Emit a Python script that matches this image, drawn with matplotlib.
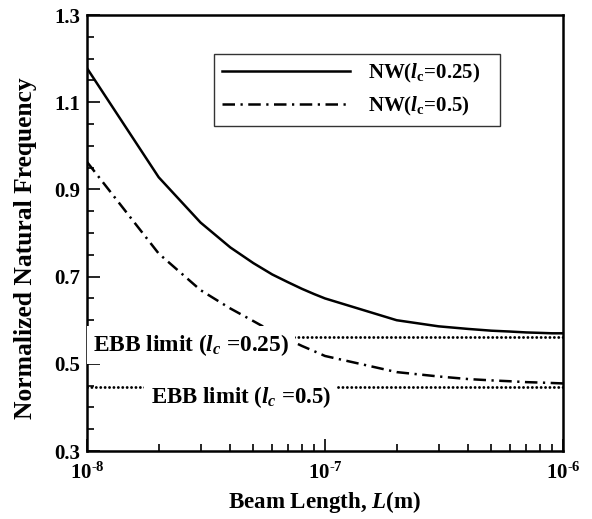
import numpy as np
import matplotlib
matplotlib.use("Agg")
import matplotlib.pyplot as plt
from matplotlib.ticker import FixedLocator, LogLocator, NullFormatter

plt.rcParams['font.family'] = 'Liberation Serif'
plt.rcParams['font.weight'] = 'bold'
plt.rcParams['mathtext.fontset'] = 'custom'
plt.rcParams['mathtext.rm'] = 'Liberation Serif:bold'
plt.rcParams['mathtext.bf'] = 'Liberation Serif:bold'
plt.rcParams['mathtext.it'] = 'Liberation Serif:italic:bold'

# beam length (m)
L = np.array([1e-8, 2e-8, 3e-8, 4e-8, 5e-8, 6e-8, 7e-8, 8e-8, 9e-8,
              1e-7, 2e-7, 3e-7, 4e-7, 5e-7, 6e-7, 7e-7, 8e-7, 9e-7, 1e-6])
# normalized natural frequency
nw_025 = np.array([1.178, 0.928, 0.824, 0.767, 0.731, 0.705, 0.687, 0.672, 0.660,
                   0.650, 0.600, 0.586, 0.580, 0.576, 0.574, 0.572, 0.571, 0.570, 0.570])
nw_05 = np.array([0.963, 0.753, 0.669, 0.627, 0.598, 0.574, 0.556, 0.541, 0.529,
                  0.518, 0.481, 0.471, 0.465, 0.462, 0.460, 0.458, 0.457, 0.456, 0.455])
ebb_025 = 0.561
ebb_05 = 0.446
xtick_vals = [1e-8, 1e-7, 1e-6]
xtick_labels = ['10$^{\u2010 8}$', '10$^{\u2010 7}$', '10$^{\u2010 6}$']
ytick_labels = ['0.3', '0.5', '0.7', '0.9', '1.1', '1.3']

fig = plt.figure(figsize=(5.92, 5.19), dpi=100)
ax = fig.add_axes([0.147, 0.131, 0.804, 0.840])

ax.plot(L, nw_025, color='black', lw=1.8, label=r'NW($l_{\mathrm{c}}$=0.25)   ')
ax.plot(L, nw_05, color='black', lw=1.8, linestyle=(0, (5, 2.2, 0.9, 2.2)),
        label=r'NW($l_{\mathrm{c}}$=0.5)')

dots = (0, (0.01, 1.5))
ax.axhline(ebb_025, color='black', lw=2.1, linestyle=dots, dash_capstyle='round', zorder=1)
ax.axhline(ebb_05, color='black', lw=2.1, linestyle=dots, dash_capstyle='round', zorder=1)

box = dict(facecolor='white', edgecolor='none', pad=4.5)
ax.text(1.06e-8, ebb_025 - 0.032, r'EBB limit ($l_c$ =0.25)', fontsize=16.8,
        va='baseline', ha='left', bbox=box, zorder=3)
ax.text(1.85e-8, ebb_05 - 0.036, r'EBB limit ($l_c$ =0.5)', fontsize=16.5,
        va='baseline', ha='left', bbox=box, zorder=3)

ax.set_xscale('log')
ax.set_xlim(1e-8, 1e-6)
ax.set_ylim(0.3, 1.3)

ax.xaxis.set_major_locator(FixedLocator(xtick_vals))
ax.set_xticklabels(xtick_labels)
ax.xaxis.set_minor_locator(LogLocator(base=10, subs=np.arange(2, 10)))
ax.xaxis.set_minor_formatter(NullFormatter())

ax.set_yticks(np.arange(0.3, 1.31, 0.2))
ax.set_yticklabels(ytick_labels)
ax.set_yticks(np.arange(0.3, 1.31, 0.05), minor=True)

ax.tick_params(which='both', direction='in', top=False, right=False, width=1.2, labelsize=15)
ax.tick_params(which='major', length=9)
ax.tick_params(which='minor', length=5)
ax.tick_params(axis='x', pad=8)
ax.tick_params(axis='y', pad=5)
for s in ax.spines.values():
    s.set_linewidth(1.8)

ax.set_xlabel(r'Beam Length, $L$(m)', fontsize=16.6, fontweight='bold', labelpad=4)
ax.set_ylabel('Normalized Natural Frequency', fontsize=18.4, fontweight='bold')
ax.yaxis.set_label_coords(-0.105, 0.466)

leg = ax.legend(loc='upper left', bbox_to_anchor=(0.267, 0.911), fontsize=15,
                frameon=True, fancybox=False, edgecolor='black', handlelength=6.1,
                handletextpad=0.9, labelspacing=0.45, borderpad=0.4, borderaxespad=0)
leg.get_frame().set_linewidth(1.0)

fig.savefig('out.png', dpi=100)
